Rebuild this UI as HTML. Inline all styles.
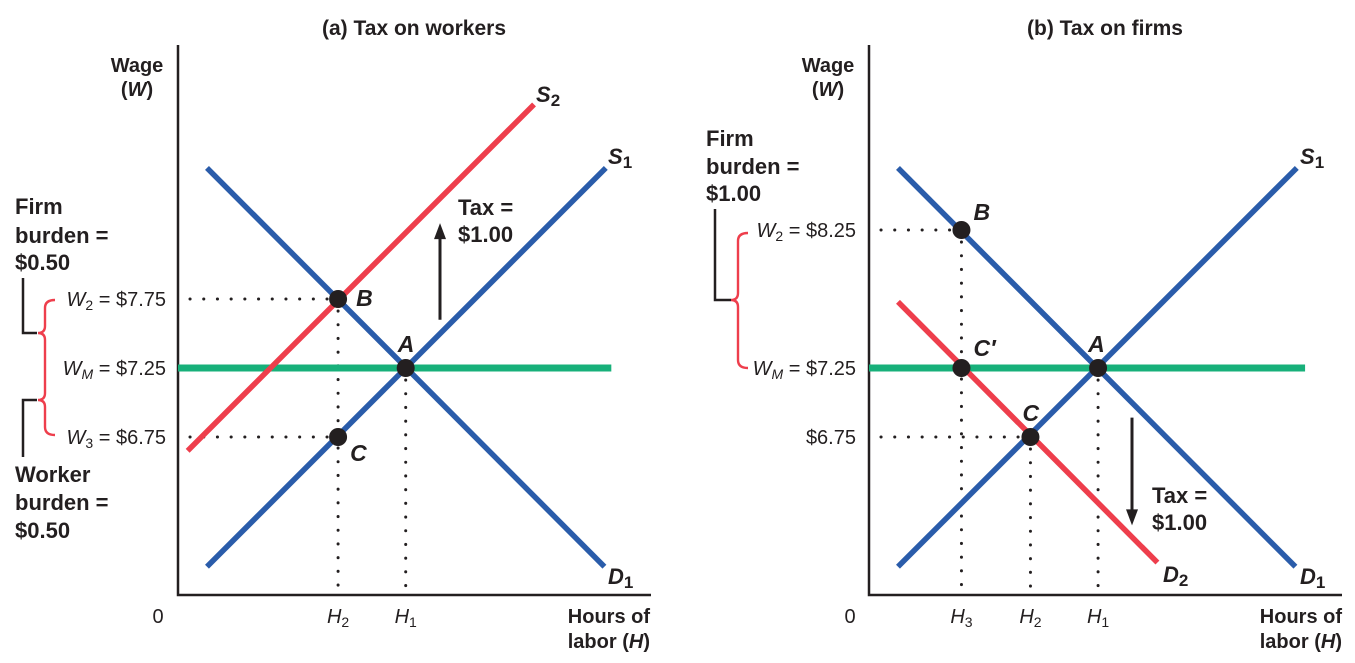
<!DOCTYPE html>
<html><head><meta charset="utf-8"><style>
html,body{margin:0;padding:0;background:#fff;width:1355px;height:663px;overflow:hidden}
svg{display:block}
text{font-family:"Liberation Sans",sans-serif;fill:#231f20}
.b{font-weight:bold}
.t{font-size:22px;font-weight:bold}
</style></head><body>
<svg id="chart" width="1355" height="663" viewBox="0 0 1355 663" xmlns="http://www.w3.org/2000/svg">
<g id="static">
<text x="414" y="35" text-anchor="middle" class="b" font-size="21">(a) Tax on workers</text>
<text x="1105" y="35" text-anchor="middle" class="b" font-size="21">(b) Tax on firms</text>
<text x="137" y="72" text-anchor="middle" class="b" font-size="20">Wage</text>
<text x="137" y="96" text-anchor="middle" class="b" font-size="20">(<tspan font-style="italic">W</tspan>)</text>
<text x="828" y="72" text-anchor="middle" class="b" font-size="20">Wage</text>
<text x="828" y="96" text-anchor="middle" class="b" font-size="20">(<tspan font-style="italic">W</tspan>)</text>
<text x="158" y="623" text-anchor="middle" font-size="20">0</text>
<text x="850" y="623" text-anchor="middle" font-size="20">0</text>
<text x="650" y="623" text-anchor="end" class="b" font-size="20">Hours of</text>
<text x="650" y="648" text-anchor="end" class="b" font-size="20">labor (<tspan font-style="italic">H</tspan>)</text>
<text x="1342" y="623" text-anchor="end" class="b" font-size="20">Hours of</text>
<text x="1342" y="648" text-anchor="end" class="b" font-size="20">labor (<tspan font-style="italic">H</tspan>)</text>
<g class="t"><text x="15" y="214">Firm</text><text x="15" y="243">burden =</text><text x="15" y="270">$0.50</text></g>
<g class="t"><text x="15" y="482">Worker</text><text x="15" y="510">burden =</text><text x="15" y="538">$0.50</text></g>
<g class="t"><text x="706" y="146">Firm</text><text x="706" y="174">burden =</text><text x="706" y="201">$1.00</text></g>
<g class="t"><text x="458" y="215">Tax =</text><text x="458" y="242">$1.00</text></g>
<g class="t"><text x="1152" y="503">Tax =</text><text x="1152" y="530">$1.00</text></g>
<path d="M23,278 V333 H37" fill="none" stroke="#231f20" stroke-width="2.5"/>
<path d="M23,457 V400 H37" fill="none" stroke="#231f20" stroke-width="2.5"/>
<path d="M55,300 Q45,300 45,308 V326 Q45,333 38,333 Q45,333 45,340 V393 Q45,400 38,400 Q45,400 45,407 V427 Q45,435 55,435" fill="none" stroke="#ee3e4c" stroke-width="2.4"/>
<path d="M715,209 V300 H731" fill="none" stroke="#231f20" stroke-width="2.5"/>
<path d="M748,233 Q738,233 738,241 V293 Q738,300 731,300 Q738,300 738,307 V360 Q738,368 748,368" fill="none" stroke="#ee3e4c" stroke-width="2.4"/>
</g>
<g id="plots"></g>
</svg>
<script>
// ---- data ----
const wageTicksA = [7.75, 7.25, 6.75];
const wageTickLabelsA = ["W2 = $7.75", "WM = $7.25", "W3 = $6.75"];
const wageTicksB = [8.25, 7.25, 6.75];
const wageTickLabelsB = ["W2 = $8.25", "WM = $7.25", "$6.75"];
const minWage = 7.25;
const demandD1 = [[2.1, 8.70], [30.9, 5.81]];
const supplyS1 = [[2.1, 5.81], [31.0, 8.70]];
const supplyS2 = [[0.7, 6.65], [25.8, 9.16]];
const demandD2 = [[2.1, 7.73], [20.9, 5.84]];
const pointsA = [["B", 11.6, 7.75], ["A", 16.5, 7.25], ["C", 11.6, 6.75]];
const pointsB = [["B", 6.7, 8.25], ["C′", 6.7, 7.25], ["A", 16.6, 7.25], ["C", 11.7, 6.75]];
const hoursTicksA = [["H2", 11.6], ["H1", 16.5]];
const hoursTicksB = [["H3", 6.7], ["H2", 11.7], ["H1", 16.6]];
const taxA = [7.6, 8.3];
const taxB = [6.89, 6.11];

// ---- scales ----
const PX_H = 13.8, PX_W = 138, Y0 = 368;
const yS = w => Y0 - (w - 7.25) * PX_W;
const NS = "http://www.w3.org/2000/svg";
const root = document.getElementById("plots");
function el(tag, attrs, parent) {
  const e = document.createElementNS(NS, tag);
  for (const k in attrs) e.setAttribute(k, attrs[k]);
  (parent || root).appendChild(e);
  return e;
}
const BLUE = "#2a5caa", RED = "#ee3e4c", GREEN = "#17b07a", INK = "#231f20";

function panel(cfg) {
  const x0 = cfg.x0, xS = h => x0 + h * PX_H;
  const g = el("g", {});
  
  
  const ax = el("path", {d: `M${x0},45 V595 H${cfg.xEnd}`, fill: "none", stroke: INK, "stroke-width": 2.5}, g);
  
  
  cfg.guides.forEach(([h, w, vert, horiz]) => {
    if (horiz) {
      const d = el("line", {x1: x0 + 12, y1: yS(w), x2: xS(h), y2: yS(w), stroke: INK, "stroke-width": 3, "stroke-dasharray": "0.1 13.6", "stroke-linecap": "round"}, g);
      
      
    }
    if (vert) {
      const d = el("line", {x1: xS(h), y1: yS(w) + 12, x2: xS(h), y2: 595, stroke: INK, "stroke-width": 3, "stroke-dasharray": "0.1 13.6", "stroke-linecap": "round"}, g);
      
      
    }
  });
  const mw = el("line", {x1: x0, y1: yS(minWage), x2: xS(cfg.mwEnd), y2: yS(minWage), stroke: GREEN, "stroke-width": 7}, g);
  
  
  cfg.curves.forEach(([pts, color, name, lab, sub, lx, ly]) => {
    const l = el("line", {x1: xS(pts[0][0]), y1: yS(pts[0][1]), x2: xS(pts[1][0]), y2: yS(pts[1][1]), stroke: color, "stroke-width": 5.5}, g);
    
    
    const t = el("text", {x: lx, y: ly, "font-size": 22, "font-weight": "bold", "font-style": "italic"}, g);
    
    
    t.textContent = lab;
    const s = el("tspan", {"font-size": 17, "font-style": "normal", dy: 4}, t);
    s.textContent = sub;
  });
  cfg.points.forEach(([lab, h, w], i) => {
    const c = el("circle", {cx: xS(h), cy: yS(w), r: 9, fill: INK}, g);
    
    
    const o = cfg.pointLabelOff[i];
    const t = el("text", {x: xS(h) + o[0], y: yS(w) + o[1], "font-size": 23, "font-weight": "bold", "font-style": "italic"}, g);
    
    
    t.textContent = lab;
  });
  cfg.wTicks.forEach((w, i) => {
    const s = cfg.wLabels[i];
    const t = el("text", {x: cfg.labelX, y: yS(w) + 7, "text-anchor": "end", "font-size": 20}, g);
    
    
    if (s.startsWith("W")) {
      const a = el("tspan", {"font-style": "italic"}, t); a.textContent = "W";
      const b = el("tspan", {"font-size": 14, dy: 4, "font-style": s[1] === "M" ? "italic" : "normal"}, t); b.textContent = s[1];
      const c = el("tspan", {dy: -4}, t); c.textContent = s.slice(2);
    } else t.textContent = s;
  });
  cfg.hTicks.forEach(([lab, h]) => {
    const t = el("text", {x: xS(h), y: 623, "text-anchor": "middle", "font-size": 20}, g);
    
    
    const a = el("tspan", {"font-style": "italic"}, t); a.textContent = lab[0];
    const b = el("tspan", {"font-size": 14, dy: 4}, t); b.textContent = lab.slice(1);
  });
  const [w1, w2] = cfg.tax, ax2 = cfg.taxX, dir = w2 > w1 ? -1 : 1;
  const tip = yS(w2);
  const ar = el("line", {x1: ax2, y1: yS(w1), x2: ax2, y2: tip - dir * 10, stroke: INK, "stroke-width": 3}, g);
  
  
  const hd = el("path", {d: `M${ax2},${tip} L${ax2 - 6},${tip - dir * 16} L${ax2 + 6},${tip - dir * 16} Z`, fill: INK}, g);
  
  
}

panel({
  name: "panel-a", x0: 178, xEnd: 651, mwEnd: 31.4, labelX: 166,
  guides: [[11.6, 7.75, true, true], [11.6, 6.75, false, true], [16.5, 7.25, true, false]],
  curves: [[supplyS2, RED, "supply-s2", "S", "2", 536, 102], [supplyS1, BLUE, "supply-s1", "S", "1", 608, 164], [demandD1, BLUE, "demand-d1", "D", "1", 608, 584]],
  points: pointsA, pointLabelOff: [[18, 7], [-8, -16], [12, 24]],
  wTicks: wageTicksA, wLabels: wageTickLabelsA, hTicks: hoursTicksA,
  tax: taxA, taxX: 440
});
panel({
  name: "panel-b", x0: 869, xEnd: 1342, mwEnd: 31.6, labelX: 856,
  guides: [[6.7, 8.25, true, true], [6.7, 7.25, false, false], [11.7, 6.75, true, true], [16.6, 7.25, true, false]],
  curves: [[supplyS1, BLUE, "supply-s1", "S", "1", 1300, 164], [demandD1, BLUE, "demand-d1", "D", "1", 1300, 584], [demandD2, RED, "demand-d2", "D", "2", 1163, 582]],
  points: pointsB, pointLabelOff: [[12, -10], [12, -12], [-10, -16], [-8, -16]],
  wTicks: wageTicksB, wLabels: wageTickLabelsB, hTicks: hoursTicksB,
  tax: taxB, taxX: 1132
});
</script>
</body></html>
